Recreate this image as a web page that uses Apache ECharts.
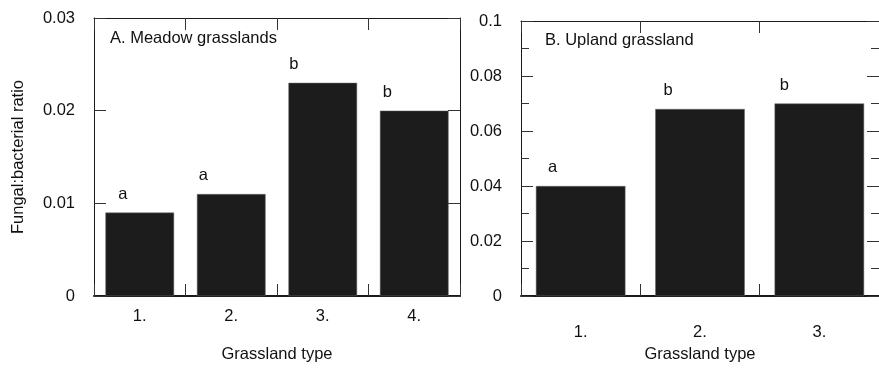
<!DOCTYPE html>
<html><head><meta charset="utf-8">
<script src="https://cdn.jsdelivr.net/npm/echarts@6/dist/echarts.min.js"></script>
<style>html,body{margin:0;padding:0;background:#fff}#c{width:879px;height:368px}</style>
</head><body><div id="c"></div>
<script>
// Data
const catsA = ['1.', '2.', '3.', '4.'];
const valsA = [0.009, 0.011, 0.023, 0.020];
const lettersA = ['a', 'a', 'b', 'b'];
const catsB = ['1.', '2.', '3.'];
const valsB = [0.040, 0.068, 0.070];
const lettersB = ['a', 'b', 'b'];
const yTicksA = [0, 0.01, 0.02, 0.03];
const yTicksB = [0, 0.02, 0.04, 0.06, 0.08, 0.1];
const titleA = 'A. Meadow grasslands';
const titleB = 'B. Upland grassland';
const yName = 'Fungal:bacterial ratio';
const xName = 'Grassland type';

// Style
const offA = [[-17, 0], [-28, 0], [-29, 0], [-27, 0]];
const offB = [[-28, 0], [-32, 0], [-35, 0]];
const FONT = 'Liberation Sans, Arial, sans-serif';
const FS = 16.5;
const TXT = '#111';
const LINE = '#1a1a1a';
const TICK = '#333';

const chart = echarts.init(document.getElementById('c'), null, {renderer: 'canvas'});

function fmt(v) { return v === 0 ? '0' : String(+v.toFixed(3)); }

function xAxes(gi, cats, labelMargin) {
  return [
    {type: 'category', gridIndex: gi, data: cats, position: 'bottom',
     name: xName, nameLocation: 'middle', nameGap: 50,
     nameTextStyle: {fontFamily: FONT, fontSize: FS, color: TXT},
     axisLine: {show: true, onZero: false, lineStyle: {color: LINE, width: 2}},
     axisTick: {show: true, inside: true, length: 12, lineStyle: {color: TICK, width: 1}},
     axisLabel: {show: true, fontFamily: FONT, fontSize: FS, color: TXT, margin: labelMargin}},
    {type: 'category', gridIndex: gi, data: cats, position: 'top',
     axisLine: {show: true, onZero: false, lineStyle: {color: LINE, width: 1}},
     axisTick: {show: true, inside: true, length: 12, lineStyle: {color: TICK, width: 1}},
     axisLabel: {show: false}}
  ];
}
function yAxes(gi, max, interval, minor, withName) {
  const common = {type: 'value', gridIndex: gi, min: 0, max: max, interval: interval,
    splitLine: {show: false},
    minorTick: {show: minor, splitNumber: 2, length: 8, lineStyle: {color: TICK}},
    axisTick: {show: true, inside: true, length: 12, lineStyle: {color: TICK, width: 1}}};
  return [
    Object.assign({}, common, {position: 'left',
      name: withName ? yName : '', nameLocation: 'middle', nameGap: 67,
      nameTextStyle: {fontFamily: FONT, fontSize: FS, color: TXT},
      axisLine: {show: true, onZero: false, lineStyle: {color: LINE, width: 1}},
      axisLabel: {fontFamily: FONT, fontSize: FS, color: TXT, margin: 19, formatter: fmt}}),
    Object.assign({}, common, {position: 'right',
      axisLine: {show: true, onZero: false, lineStyle: {color: LINE, width: 1}},
      axisLabel: {show: false}})
  ];
}
function barSeries(xi, yi, vals, letters, offs) {
  return {type: 'bar', xAxisIndex: xi, yAxisIndex: yi, barCategoryGap: '25%',
    itemStyle: {color: '#1c1c1c', borderColor: '#666', borderWidth: 0.5},
    data: vals.map((v, i) => ({value: v,
      label: {show: true, position: 'top', distance: 10, offset: offs[i],
        formatter: letters[i], fontFamily: FONT, fontSize: FS, color: TXT}})),
    silent: true, animation: false};
}

const option = {
  animation: false,
  grid: [
    {left: 94, top: 18, width: 366, height: 281},
    {left: 521, top: 21, width: 361.5, height: 279}
  ],
  xAxis: [].concat(xAxes(0, catsA, 12), xAxes(1, catsB, 28)),
  yAxis: [].concat(yAxes(0, yTicksA[yTicksA.length - 1], yTicksA[1] - yTicksA[0], false, true),
                   yAxes(1, yTicksB[yTicksB.length - 1], yTicksB[1] - yTicksB[0], true, false)),
  title: [
    {text: titleA, left: 105, top: 25, textStyle: {fontFamily: FONT, fontSize: FS, fontWeight: 'normal', color: TXT}},
    {text: titleB, left: 540, top: 27, textStyle: {fontFamily: FONT, fontSize: FS, fontWeight: 'normal', color: TXT}}
  ],
  series: [
    barSeries(0, 0, valsA, lettersA, offA),
    barSeries(2, 2, valsB, lettersB, offB)
  ]
};
chart.setOption(option);
</script></body></html>
